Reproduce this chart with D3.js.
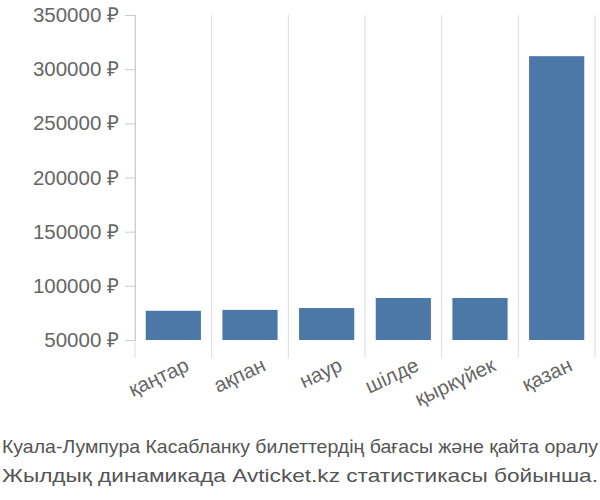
<!DOCTYPE html>
<html><head><meta charset="utf-8">
<script src="https://cdn.jsdelivr.net/npm/d3@7"></script>
<style>body{margin:0;background:#fff}text{font-family:"Liberation Sans",Arial,sans-serif}</style>
</head><body><svg id="c" width="600" height="500"></svg>
<script>
const categories=["қаңтар","ақпан","наур","шілде","қыркүйек","қазан"];
const values=[77000,77800,79500,88800,88800,312000];
const yTicks=[50000,100000,150000,200000,250000,300000,350000];
const title=["Куала-Лумпура Касабланку билеттердің бағасы және қайта оралу","Жылдық динамикада Avticket.kz статистикасы бойынша."];
const svg=d3.select("#c");
const L=135,R=595,T=15,B=340;
const x=d3.scaleBand().domain(categories).range([L,R]).paddingInner(0.28).paddingOuter(0.14);
const y=d3.scaleLinear().domain([50000,350000]).range([B,T]);
const step=(R-L)/categories.length;
const g=svg.append("g");
for(let i=0;i<=categories.length;i++){
  g.append("line").attr("x1",L+i*step).attr("x2",L+i*step).attr("y1",T).attr("y2",B+18).attr("stroke","#ddd");
}
svg.append("g").selectAll("rect").data(values).join("rect")
 .attr("x",(d,i)=>x(categories[i])).attr("width",x.bandwidth())
 .attr("y",d=>y(d)).attr("height",d=>B-y(d)).attr("fill","#4c78a8");
const ya=svg.append("g").attr("transform",`translate(${L},0)`)
 .call(d3.axisLeft(y).tickValues(yTicks).tickFormat(d=>d+" ₽").tickSize(10).tickPadding(6));
ya.select(".domain").attr("stroke","#ccc");
ya.selectAll(".tick line").attr("stroke","#ccc");
ya.selectAll("text").attr("font-size",20.5).attr("fill","#666");
const xa=svg.append("g").attr("transform",`translate(0,${B})`)
 .call(d3.axisBottom(x).tickSize(0).tickPadding(0));
xa.select(".domain").remove();
xa.selectAll("text").attr("font-size",20.5).attr("fill","#666")
 .attr("text-anchor","end").attr("dy",0)
 .attr("transform","translate(17,30) rotate(-25)");
svg.selectAll(".ttl").data(title).join("text")
 .attr("x",300).attr("y",(d,i)=>453+i*29).attr("text-anchor","middle")
 .attr("font-size",18.5).attr("fill","#555").attr("textLength",(d,i)=>i?596:596)
 .attr("lengthAdjust","spacingAndGlyphs").text(d=>d);
</script></body></html>
